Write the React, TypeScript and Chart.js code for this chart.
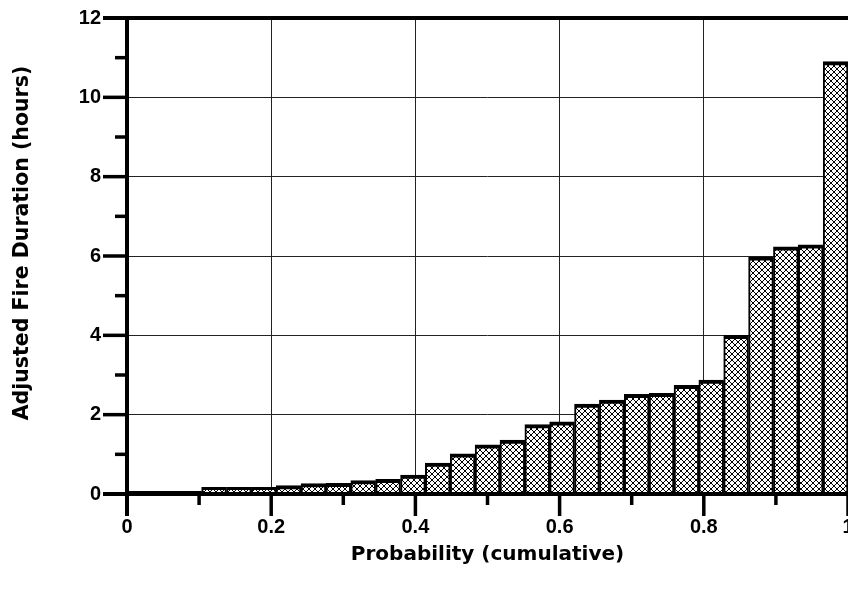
import React, { useEffect, useRef } from 'react';
import { Chart, registerables } from 'chart.js';

Chart.register(...registerables);

// Midpoints of the 29 equal probability bins (cumulative probability)
const binMidpoints = [
  0.0172, 0.0517, 0.0862, 0.1207, 0.1552, 0.1897, 0.2241, 0.2586, 0.2931, 0.3276,
  0.3621, 0.3966, 0.4310, 0.4655, 0.5000, 0.5345, 0.5690, 0.6034, 0.6379, 0.6724,
  0.7069, 0.7414, 0.7759, 0.8103, 0.8448, 0.8793, 0.9138, 0.9483, 0.9828,
];

// Adjusted fire duration (hours) per bin
const durations = [
  0.07, 0.07, 0.07, 0.17, 0.17, 0.17, 0.21, 0.26, 0.27, 0.34,
  0.37, 0.48, 0.78, 1.01, 1.24, 1.36, 1.75, 1.82, 2.27, 2.37,
  2.51, 2.54, 2.74, 2.87, 4.0, 5.98, 6.23, 6.28, 10.9,
];

const xTickLabels = ['0', '0.2', '0.4', '0.6', '0.8', '1'];
const yTickLabels = ['0', '2', '4', '6', '8', '10', '12'];

const xTitle = 'Probability (cumulative)';
const yTitle = 'Adjusted Fire Duration (hours)';

const CANVAS_W = 900;
const CANVAS_H = 590;

function makePattern(): CanvasPattern | string {
  const pc = document.createElement('canvas');
  pc.width = 6;
  pc.height = 6;
  const p = pc.getContext('2d');
  if (!p) return '#ccc';
  p.fillStyle = '#ffffff';
  p.fillRect(0, 0, 6, 6);
  p.strokeStyle = '#000000';
  p.lineWidth = 1;
  p.beginPath();
  p.moveTo(-1, -1);
  p.lineTo(7, 7);
  p.moveTo(7, -1);
  p.lineTo(-1, 7);
  p.stroke();
  const pat = p.createPattern(pc, 'repeat');
  return pat || '#ccc';
}

const axesPlugin = {
  id: 'axesPlugin',
  afterDatasetsDraw(chart: any) {
    const { ctx, chartArea, scales } = chart;
    const { left, top, bottom } = chartArea;
    const x = scales.x;
    const y = scales.y;
    ctx.save();
    ctx.strokeStyle = '#000';
    ctx.lineCap = 'butt';
    // y ticks
    ctx.lineWidth = 3.5;
    y.ticks.forEach((t: any) => {
      const py = y.getPixelForValue(t.value);
      const major = Math.round(t.value) % 2 === 0;
      const len = major ? 24 : 12;
      ctx.beginPath();
      ctx.moveTo(left - len, py);
      ctx.lineTo(left, py);
      ctx.stroke();
    });
    // x ticks
    x.ticks.forEach((t: any) => {
      const px = x.getPixelForValue(t.value);
      const major = Math.round(t.value * 10) % 2 === 0;
      const len = major ? 22 : 11;
      ctx.beginPath();
      ctx.moveTo(px, bottom);
      ctx.lineTo(px, bottom + len);
      ctx.stroke();
    });
    // axis lines and top frame
    ctx.lineWidth = 4;
    ctx.beginPath();
    ctx.moveTo(left, top);
    ctx.lineTo(left, bottom + 22);
    ctx.stroke();
    ctx.beginPath();
    ctx.moveTo(left - 24, bottom);
    ctx.lineTo(chart.width, bottom);
    ctx.stroke();
    ctx.beginPath();
    ctx.moveTo(left - 24, top);
    ctx.lineTo(chart.width, top);
    ctx.stroke();

    // y axis title
    ctx.save();
    ctx.translate(23, 243);
    ctx.rotate(-Math.PI / 2);
    ctx.fillStyle = '#000';
    ctx.font = 'bold 20.5px "DejaVu Sans", sans-serif';
    ctx.textAlign = 'center';
    ctx.textBaseline = 'middle';
    ctx.fillText(yTitle, 0, 0);
    ctx.restore();

    ctx.restore();
  },
};

export default function App() {
  const canvasRef = useRef<HTMLCanvasElement | null>(null);

  useEffect(() => {
    const canvas = canvasRef.current;
    if (!canvas) return;
    const pattern = makePattern();
    const chart = new Chart(canvas, {
      type: 'bar',
      data: {
        datasets: [
          {
            data: binMidpoints.map((p, i) => ({ x: p, y: durations[i] })),
            backgroundColor: pattern as any,
            borderColor: '#000000',
            borderWidth: { top: 4, left: 2, right: 2, bottom: 0 } as any,
            barPercentage: 1,
            categoryPercentage: 1,
          },
        ],
      },
      options: {
        animation: false,
        responsive: false,
        devicePixelRatio: 1,
        layout: { padding: { left: 0, right: CANVAS_W - 848, top: 18, bottom: 0 } },
        plugins: {
          legend: { display: false },
          tooltip: { enabled: false },
        },
        scales: {
          x: {
            type: 'linear',
            min: 0,
            max: 1,
            offset: false,
            afterFit: (s: any) => {
              s.height = CANVAS_H - 494;
              s.paddingLeft = 0;
              s.paddingRight = 0;
            },
            ticks: {
              stepSize: 0.1,
              autoSkip: false,
              maxRotation: 0,
              padding: 21,
              color: '#000',
              font: { family: 'Liberation Sans, Arial, sans-serif', size: 20, weight: 'bold' },
              callback: (v: any) => {
                const lbl = String(+Number(v).toFixed(1));
                return xTickLabels.includes(lbl) && Math.round(Number(v) * 10) % 2 === 0 ? lbl : '';
              },
            },
            grid: {
              offset: false,
              drawTicks: false,
              lineWidth: 1,
              color: (c: any) => {
                const v = c.tick ? c.tick.value : 0;
                const k = Math.round(v * 10);
                return k % 2 === 0 && k > 0 && k < 10 ? '#222' : 'rgba(0,0,0,0)';
              },
            },
            border: { display: false },
            title: {
              display: true,
              text: xTitle,
              color: '#000',
              font: { family: 'DejaVu Sans, sans-serif', size: 20, weight: 'bold' },
              padding: { top: 0, bottom: 23 },
            },
          },
          y: {
            type: 'linear',
            min: 0,
            max: 12,
            afterFit: (s: any) => {
              s.width = 127;
              s.paddingTop = 0;
              s.paddingBottom = 0;
            },
            ticks: {
              stepSize: 1,
              padding: 26,
              color: '#000',
              font: { family: 'Liberation Sans, Arial, sans-serif', size: 20, weight: 'bold' },
              callback: (v: any) => {
                const lbl = String(Math.round(Number(v)));
                return yTickLabels.includes(lbl) ? lbl : '';
              },
            },
            grid: {
              drawTicks: false,
              lineWidth: 1,
              color: (c: any) => {
                const v = c.tick ? Math.round(c.tick.value) : 0;
                return v % 2 === 0 && v > 0 && v < 12 ? '#222' : 'rgba(0,0,0,0)';
              },
            },
            border: { display: false },
            title: { display: false, text: yTitle },
          },
        },
      },
      plugins: [axesPlugin],
    });
    return () => {
      chart.destroy();
    };
  }, []);

  return (
    <div
      style={{
        position: 'fixed',
        left: 0,
        top: 0,
        width: 848,
        height: 590,
        overflow: 'hidden',
        background: '#ffffff',
      }}
    >
      <canvas
        ref={canvasRef}
        width={CANVAS_W}
        height={CANVAS_H}
        style={{ display: 'block', width: CANVAS_W, height: CANVAS_H }}
      />
    </div>
  );
}
